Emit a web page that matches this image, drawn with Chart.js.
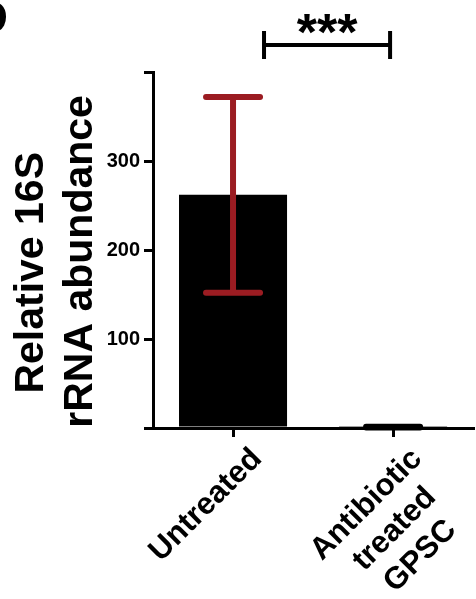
<!DOCTYPE html>
<html>
<head>
<meta charset="utf-8">
<script src="https://cdn.jsdelivr.net/npm/chart.js@4.4.1/dist/chart.umd.min.js"></script>
<style>
  html, body { margin: 0; padding: 0; background: #fff; }
  #wrap { width: 476px; height: 599px; position: relative; }
</style>
</head>
<body>
<div id="wrap"><canvas id="barChart"></canvas></div>
<script>
const groups = ["Untreated", ["Antibiotic", "treated", "GPSC"]];
const abundance = [262, 1];
const abundanceErr = [110, 0.5];
const errColors = ["#9b1c22", "#000000"];
const yTicks = [100, 200, 300];
const yTitle = ["Relative 16S", "rRNA abundance"];
const sigLabel = "***";

const FONT = "'Liberation Sans', Arial, Helvetica, sans-serif";
const X_FONT = { family: FONT, size: 31, weight: "bold", lineHeight: 1.2 };

// pad the shorter lines of a label with spaces so they look centred
// once Chart.js right-aligns the rotated text
const measure = document.createElement("canvas").getContext("2d");
function centreLines(lines) {
  if (!Array.isArray(lines)) return lines;
  measure.font = "bold " + X_FONT.size + "px " + FONT;
  const space = measure.measureText(" ").width;
  const widths = lines.map(l => measure.measureText(l).width);
  const longest = Math.max(...widths);
  return lines.map((l, i) => l + " ".repeat(Math.round((longest - widths[i]) / 2 / space)));
}

// error bars, significance bracket and the panel letter
const extrasPlugin = {
  id: "extras",
  afterDatasetsDraw(chart) {
    const c = chart.ctx;
    const y = chart.scales.y;
    const bars = chart.getDatasetMeta(0).data;
    c.save();
    c.lineCap = "round";
    c.lineWidth = 6;
    for (let i = 0; i < abundance.length; i++) {
      const cx = bars[i].x;
      const hi = y.getPixelForValue(abundance[i] + abundanceErr[i]);
      const lo = y.getPixelForValue(abundance[i] - abundanceErr[i]);
      const half = 27;
      c.strokeStyle = errColors[i];
      c.beginPath();
      c.moveTo(cx, hi);
      c.lineTo(cx, lo);
      c.moveTo(cx - half, hi);
      c.lineTo(cx + half, hi);
      c.moveTo(cx - half, lo);
      c.lineTo(cx + half, lo);
      c.stroke();
    }
    c.restore();
  },
  afterDraw(chart) {
    const c = chart.ctx;
    const x = chart.scales.x;
    const top = chart.chartArea.top;
    const x1 = x.getPixelForValue(0) + 31;
    const x2 = x.getPixelForValue(1) - 3;
    const by = top - 27;
    c.save();
    c.strokeStyle = "#000";
    c.lineWidth = 4;
    c.beginPath();
    c.moveTo(x1, by - 14);
    c.lineTo(x1, by + 14);
    c.moveTo(x2, by - 14);
    c.lineTo(x2, by + 14);
    c.moveTo(x1, by);
    c.lineTo(x2, by);
    c.stroke();
    c.fillStyle = "#000";
    c.font = "bold 52px " + FONT;
    c.textAlign = "center";
    c.textBaseline = "alphabetic";
    c.fillText(sigLabel, (x1 + x2) / 2, by + 5);
    // cut-off panel letter
    c.font = "bold 46px " + FONT;
    c.textAlign = "right";
    c.fillText("D", 8, 33);
    c.restore();
  }
};

new Chart(document.getElementById("barChart"), {
  type: "bar",
  data: {
    labels: groups,
    datasets: [{
      data: abundance,
      backgroundColor: ["#000000", "#444444"],
      borderWidth: 0,
      barPercentage: 0.675,
      categoryPercentage: 1.0
    }]
  },
  plugins: [extrasPlugin],
  options: {
    responsive: true,
    maintainAspectRatio: false,
    animation: false,
    layout: { padding: { top: 72, right: 0, left: 0, bottom: 0 } },
    plugins: {
      legend: { display: false },
      tooltip: { enabled: false }
    },
    scales: {
      x: {
        border: { color: "#000", width: 3 },
        grid: {
          drawOnChartArea: false,
          color: "#000",
          lineWidth: 3,
          tickLength: 9,
          offset: false
        },
        ticks: {
          color: "#000",
          font: X_FONT,
          autoSkip: false,
          maxRotation: 45,
          minRotation: 45,
          padding: 4,
          labelOffset: 24,
          callback(v, i) { return centreLines(groups[i]); }
        },
        afterFit(scale) { scale.height = 171; }
      },
      y: {
        min: 0,
        max: 400,
        border: { color: "#000", width: 3 },
        grid: {
          drawOnChartArea: false,
          color: "#000",
          lineWidth: 3,
          tickLength: 9
        },
        afterBuildTicks(scale) {
          scale.ticks = [0, ...yTicks, 400].map(v => ({ value: v }));
        },
        ticks: {
          color: "#000",
          font: { family: FONT, size: 20, weight: "bold" },
          padding: 4,
          callback: v => (yTicks.includes(v) ? v : "")
        },
        title: {
          display: true,
          // trailing spaces nudge each line down to where it sits in the figure
          text: [yTitle[0] + "    ", yTitle[1] + "  "],
          color: "#000",
          font: { family: FONT, size: 41, weight: "bold", lineHeight: 1.2 },
          padding: { top: 7, bottom: 0 }
        },
        afterFit(scale) { scale.width = 153; }
      }
    }
  }
});
</script>
</body>
</html>
